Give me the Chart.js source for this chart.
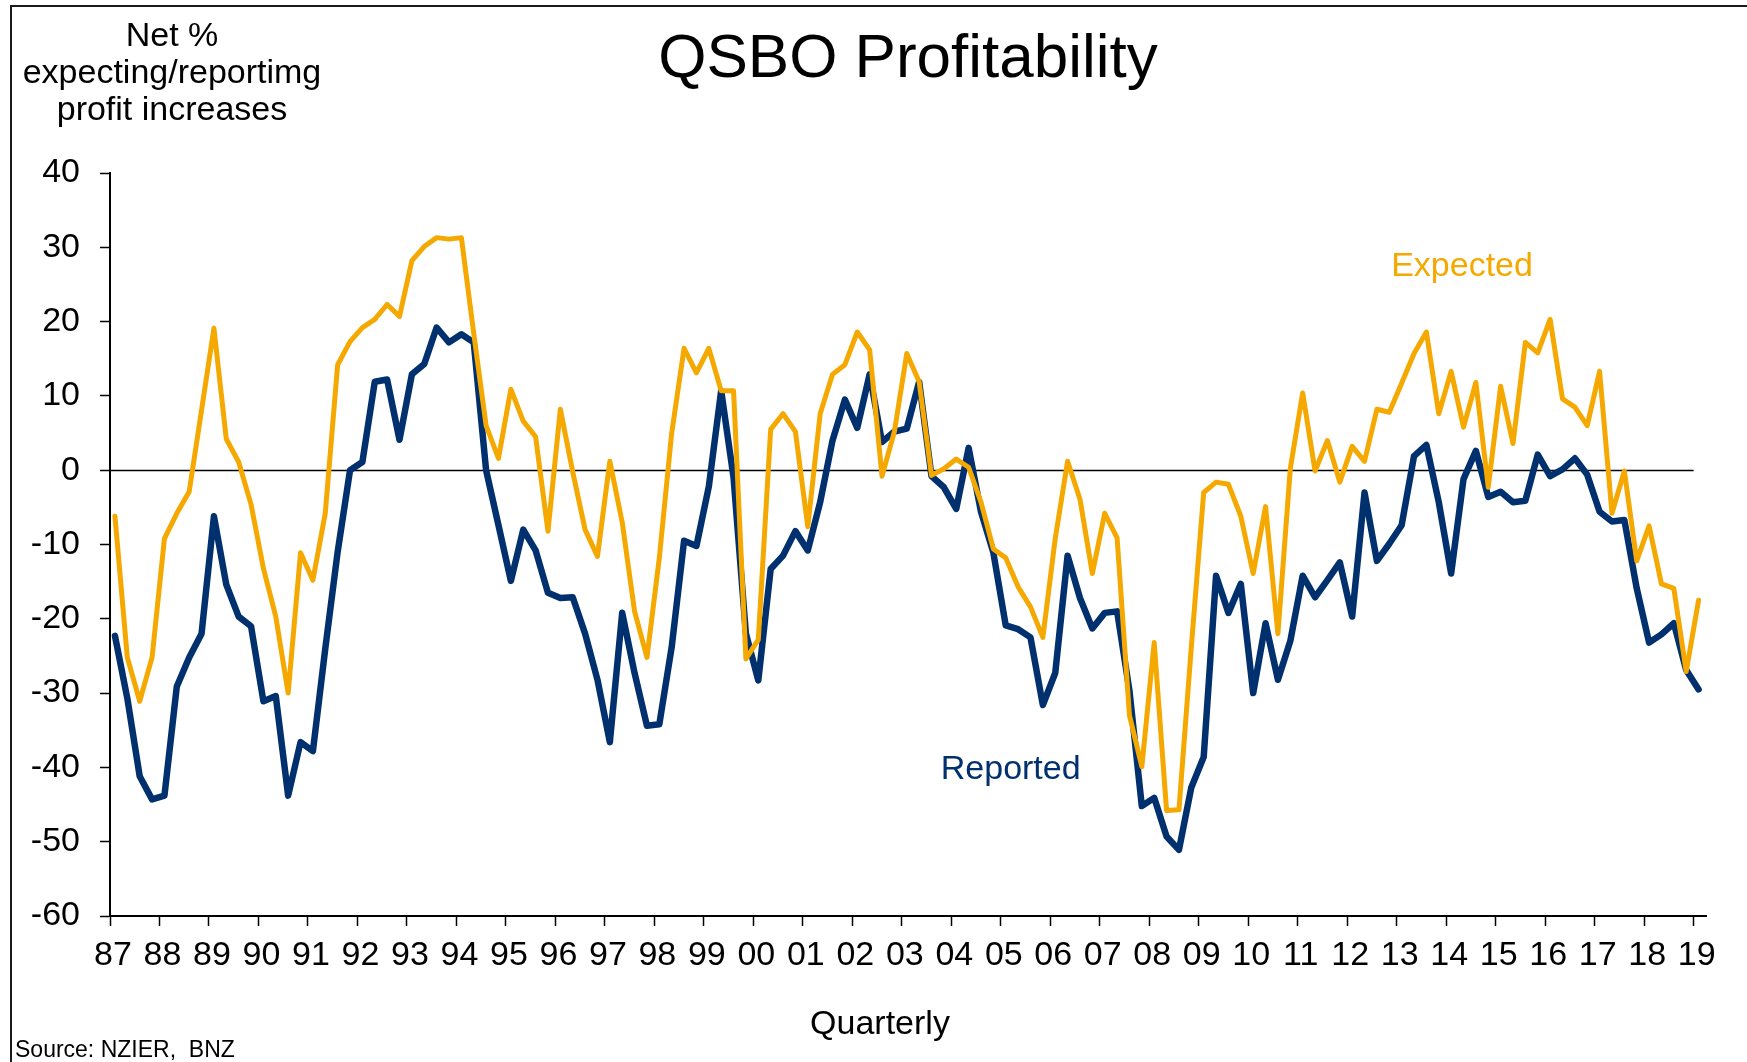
<!DOCTYPE html>
<html>
<head>
<meta charset="utf-8">
<script src="https://cdn.jsdelivr.net/npm/chart.js@4.4.1/dist/chart.umd.min.js"></script>
<style>
  html, body { margin: 0; padding: 0; background: #fff; }
  #wrap { position: relative; width: 1747px; height: 1062px; overflow: hidden; background: #fff; }
  #frame { position: absolute; left: 10px; top: 5px; width: 1800px; height: 1100px;
           border-left: 2px solid #1a1a1a; border-top: 2px solid #1a1a1a; pointer-events: none; }
  canvas { position: absolute; left: 0; top: 0; }
  .txt { position: absolute; font-family: 'Liberation Sans', Arial, sans-serif; color: #000;
         white-space: nowrap; text-align: center; }
  #ycap { left: -28px; top: 16px; width: 400px; font-size: 34px; line-height: 37px; }
  #xcap { left: 680px; top: 1005px; width: 400px; font-size: 34px; line-height: 34px; }
  #source { left: 15px; top: 1038px; font-size: 23px; line-height: 23px; text-align: left; }
</style>
</head>
<body>
<div id="wrap">
  <canvas id="c" width="1747" height="1062"></canvas>
  <div id="frame"></div>
  <div id="ycap" class="txt"></div>
  <div id="xcap" class="txt"></div>
  <div id="source" class="txt"></div>
</div>
<script>
// ---------------- data ----------------
const titleText = 'QSBO Profitability';
const yCaptionLines = ['Net %', 'expecting/reportimg', 'profit increases'];
const xCaption = 'Quarterly';
const sourceText = 'Source: NZIER,\u00a0 BNZ';

const firstYear = 1987;
const yearLabels = ['87','88','89','90','91','92','93','94','95','96','97','98','99',
                    '00','01','02','03','04','05','06','07','08','09','10','11','12',
                    '13','14','15','16','17','18','19'];

// Net % expecting profit increases (quarterly, 1987Q1 - 2019Q1)
const expected = [
  -6.2, -25.2, -31.1, -25.2, -9.2, -5.8, -2.9, 8.1, 19.1, 4.2,
  1.1, -4.6, -13.2, -19.7, -30.0, -11.1, -14.8, -5.8, 14.2, 17.3,
  19.2, 20.3, 22.3, 20.7, 28.2, 30.1, 31.3, 31.1, 31.3, 18.4,
  6.0, 1.6, 10.9,
  6.6, 4.5, -8.2, 8.2, -0.2, -8.0, -11.6, 1.2, -7.0, -19.0,
  -25.2, -11.8, 5.0, 16.4, 13.1, 16.4, 10.7, 10.7, -25.4, -22.8,
  5.5, 7.6, 5.2, -7.6, 7.6, 12.9, 14.2, 18.6, 16.2, -0.8,
  5.2, 15.7, 11.9, -0.7, 0.2, 1.5, 0.4, -4.3, -10.6, -11.8,
  -15.7, -18.4, -22.5, -9.2, 1.2, -3.9, -13.9, -5.8, -9.1, -33.0,
  -39.9, -23.2, -45.8, -45.7, -23.8, -3.0, -1.6, -1.9, -6.2, -13.9,
  -4.9, -22.0,
  0.2, 10.4, -0.1, 4.0, -1.6, 3.2, 1.2, 8.2, 7.8, 11.7,
  15.7, 18.6, 7.6, 13.3, 5.8, 11.8, -2.3, 11.3, 3.6, 17.2,
  15.8, 20.3, 9.6, 8.5, 6.0, 13.3, -5.8, -0.1, -12.2, -7.5,
  -15.3, -15.9, -27.1, -17.5
];

// Net % reporting profit increases
const reported = [
  -22.3, -30.7, -41.2, -44.3, -43.8, -29.1, -25.2, -22.0, -6.2, -15.4,
  -19.7, -21.0, -31.1, -30.4, -43.8, -36.6, -37.8, -24.0, -11.0, 0.0,
  1.1, 11.9, 12.2, 4.1, 12.9, 14.3, 19.2, 17.2, 18.3, 17.2,
  0.0, -7.4, -14.9,
  -8.0, -10.8, -16.5, -17.2, -17.1, -22.0, -28.2, -36.6, -19.2, -27.3,
  -34.4, -34.2, -23.8, -9.5, -10.2, -2.2, 10.7, -1.0, -22.0, -28.3,
  -13.3, -11.5, -8.2, -10.8, -4.3, 4.0, 9.5, 5.7, 12.9, 3.8,
  5.2, 5.6, 11.9, -0.8, -2.3, -5.2, 3.0, -5.6, -11.1, -20.9,
  -21.4, -22.5, -31.6, -27.3, -11.5, -17.2, -21.3, -19.2, -19.0, -29.7,
  -45.2, -44.1, -49.3, -51.1, -42.7, -38.6, -14.2, -19.2, -15.3, -30.0,
  -20.6, -28.2,
  -23.0, -14.2, -17.1, -14.8, -12.4, -19.7, -3.0, -12.2, -9.9, -7.4,
  1.9, 3.4, -4.3, -13.9, -1.2, 2.6, -3.6, -2.9, -4.3, -4.1,
  2.1, -0.8, 0.1, 1.6, -0.6, -5.6, -6.9, -6.7, -15.9, -23.2,
  -22.1, -20.6, -26.9, -29.5
];

// quarter categories, e.g. "1987Q1"
const quarters = expected.map((_, i) => (firstYear + Math.floor(i / 4)) + 'Q' + (i % 4 + 1));

// ---------------- styling / layout ----------------
const ORANGE = '#F5A800';
const NAVY = '#00306E';
const QUARTER_OFFSET = 0.1;   // position of a quarter's point inside its year slot
const seriesLabelAnchors = [
  { text: 'Expected', color: ORANGE, x: 2014.32, y: 26.2 },
  { text: 'Reported', color: NAVY,   x: 2005.2,  y: -41.6 }
];

function quarterToX(q) {
  const yr = parseInt(q.slice(0, 4), 10);
  const qn = parseInt(q.slice(5), 10);
  return yr + (qn - 1) / 4 + QUARTER_OFFSET;
}
const toPoints = arr => arr.map((v, i) => ({ x: quarterToX(quarters[i]), y: v }));

document.getElementById('ycap').innerHTML = yCaptionLines.join('<br>');
document.getElementById('xcap').textContent = xCaption;
document.getElementById('source').textContent = sourceText;

// zero reference line from first to last year tick
const zeroLine = {
  id: 'zeroLine',
  beforeDatasetsDraw(chart) {
    const { ctx, scales: { x, y } } = chart;
    const py = Math.round(y.getPixelForValue(0)) + 0.5;
    ctx.save();
    ctx.strokeStyle = '#000';
    ctx.lineWidth = 1.5;
    ctx.beginPath();
    ctx.moveTo(x.getPixelForValue(firstYear), py);
    ctx.lineTo(x.getPixelForValue(firstYear + yearLabels.length - 1), py);
    ctx.stroke();
    ctx.restore();
  }
};

const seriesLabels = {
  id: 'seriesLabels',
  afterDatasetsDraw(chart) {
    const { ctx, scales: { x, y } } = chart;
    ctx.save();
    ctx.font = '34px "Liberation Sans", Arial, sans-serif';
    ctx.textAlign = 'center';
    ctx.textBaseline = 'alphabetic';
    seriesLabelAnchors.forEach(l => {
      ctx.fillStyle = l.color;
      ctx.fillText(l.text, x.getPixelForValue(l.x), y.getPixelForValue(l.y));
    });
    ctx.restore();
  }
};

const tickFont = { family: 'Liberation Sans', size: 34 };

new Chart(document.getElementById('c'), {
  type: 'line',
  data: {
    datasets: [
      { label: 'Expected', data: toPoints(expected), borderColor: ORANGE, borderWidth: 5,
        pointRadius: 0, tension: 0, borderJoinStyle: 'round', borderCapStyle: 'round', fill: false },
      { label: 'Reported', data: toPoints(reported), borderColor: NAVY, borderWidth: 6.5,
        pointRadius: 0, tension: 0, borderJoinStyle: 'round', borderCapStyle: 'round', fill: false }
    ]
  },
  options: {
    responsive: false,
    animation: false,
    devicePixelRatio: 1,
    layout: { padding: { left: 10, top: 0, right: 41, bottom: 0 } },
    plugins: {
      legend: { display: false },
      tooltip: { enabled: false },
      title: {
        display: true, text: titleText, fullSize: false, color: '#000',
        font: { family: 'Liberation Sans', size: 62, weight: 'normal' },
        padding: { top: 23, bottom: 75.6 }
      }
    },
    scales: {
      x: {
        type: 'linear', min: firstYear, max: firstYear + yearLabels.length - 1 + 0.25,
        afterBuildTicks: s => { s.ticks = yearLabels.map((_, k) => ({ value: firstYear + k })); },
        afterFit: s => { s.height = 146; },
        ticks: {
          callback: (v, i) => yearLabels[i], font: tickFont, color: '#000',
          padding: 9, maxRotation: 0, minRotation: 0, autoSkip: false, labelOffset: 3
        },
        grid: { drawOnChartArea: false, drawTicks: true, tickLength: 10, tickColor: '#000', tickWidth: 1.5 },
        border: { display: true, color: '#000', width: 2 }
      },
      y: {
        min: -60, max: 40,
        afterFit: s => { s.width = 100; },
        ticks: { stepSize: 10, font: tickFont, color: '#000', padding: 20, callback: v => String(v) },
        grid: { drawOnChartArea: false, drawTicks: true, tickLength: 10, tickColor: '#000', tickWidth: 1.5 },
        border: { display: true, color: '#000', width: 2 }
      }
    }
  },
  plugins: [zeroLine, seriesLabels]
});
</script>
</body>
</html>
